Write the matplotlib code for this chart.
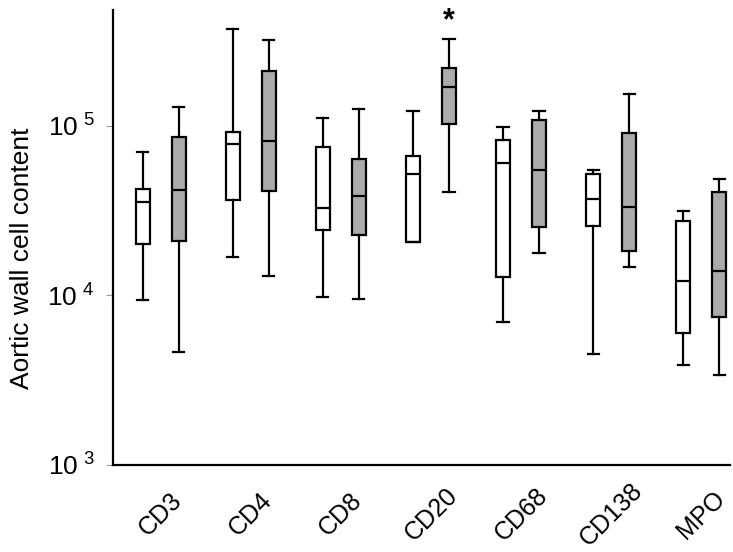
import numpy as np
import matplotlib.pyplot as plt

plt.rcParams['font.family'] = ['Liberation Sans', 'DejaVu Sans']
plt.rcParams['mathtext.default'] = 'regular'

# marker names along the x axis
markers = ["CD3", "CD4", "CD8", "CD20", "CD68", "CD138", "MPO"]

# white boxes (first group of each pair): whisker low, Q1, median, Q3, whisker high
white_lo = [9400, 16700, 9700, 20700, 6900, 4500, 3850]
white_q1 = [20000, 36500, 24300, 20700, 12800, 25500, 6000]
white_med = [35500, 77500, 32500, 51500, 60500, 37000, 12100]
white_q3 = [42500, 91000, 75000, 66500, 82000, 51500, 27200]
white_hi = [69500, 370000, 111000, 121000, 97500, 55000, 31500]

# grey boxes (second group of each pair)
grey_lo = [4650, 12900, 9500, 40500, 17700, 14600, 3400]
grey_q1 = [20900, 41000, 22700, 102000, 25200, 18100, 7400]
grey_med = [41800, 81500, 38200, 169000, 54600, 33300, 13900]
grey_q3 = [85500, 210000, 63800, 219000, 108000, 90000, 40400]
grey_hi = [129000, 320000, 125000, 324000, 121000, 153000, 48200]

def make_stats(lo, q1, med, q3, hi):
    return [dict(whislo=a, q1=b, med=c, q3=d, whishi=e, fliers=[])
            for a, b, c, d, e in zip(lo, q1, med, q3, hi)]

fig = plt.figure(figsize=(7.33, 5.52), dpi=100)
ax = fig.add_axes([0.154, 0.158, 0.842, 0.824])

x = np.arange(len(markers))
off = 0.2
w = 0.155
line = dict(color='black', linewidth=1.6)

for stats, pos, fill in [(make_stats(white_lo, white_q1, white_med, white_q3, white_hi), x - off, 'white'),
                         (make_stats(grey_lo, grey_q1, grey_med, grey_q3, grey_hi), x + off, '#ababab')]:
    ax.bxp(stats, positions=pos, widths=w, patch_artist=True, showfliers=False,
           capwidths=w * 0.8,
           boxprops=dict(facecolor=fill, edgecolor='black', linewidth=1.6),
           medianprops=line, whiskerprops=line, capprops=line)

# significance star above CD20 grey box
ax.text(x[3] + off, 4.1e5, '*', ha='center', va='center', fontsize=22,
        fontweight='bold', clip_on=False)

ax.set_yscale('log')
ax.set_ylim(1e3, 4.8e5)
ax.set_xlim(-0.53, 6.32)
ax.set_yticks([1e3, 1e4, 1e5])
ax.set_yticklabels([r'$10^{\ 3}$', r'$10^{\ 4}$', r'$10^{\ 5}$'])
ax.yaxis.set_minor_locator(plt.NullLocator())
ax.tick_params(axis='y', labelsize=19, length=5, width=0.8, color='#999999', pad=8)

ax.set_xticks(x)
ax.set_xticklabels(markers, rotation=45, ha='center', va='center', fontsize=18)
ax.tick_params(axis='x', length=0, pad=36)

ax.spines['top'].set_visible(False)
ax.spines['right'].set_visible(False)
ax.spines['left'].set_linewidth(1.6)
ax.spines['bottom'].set_linewidth(1.6)

ax.set_ylabel('Aortic wall cell content', fontsize=19)
ax.yaxis.set_label_coords(-0.128, 0.455)

fig.savefig('out.png', dpi=100)
